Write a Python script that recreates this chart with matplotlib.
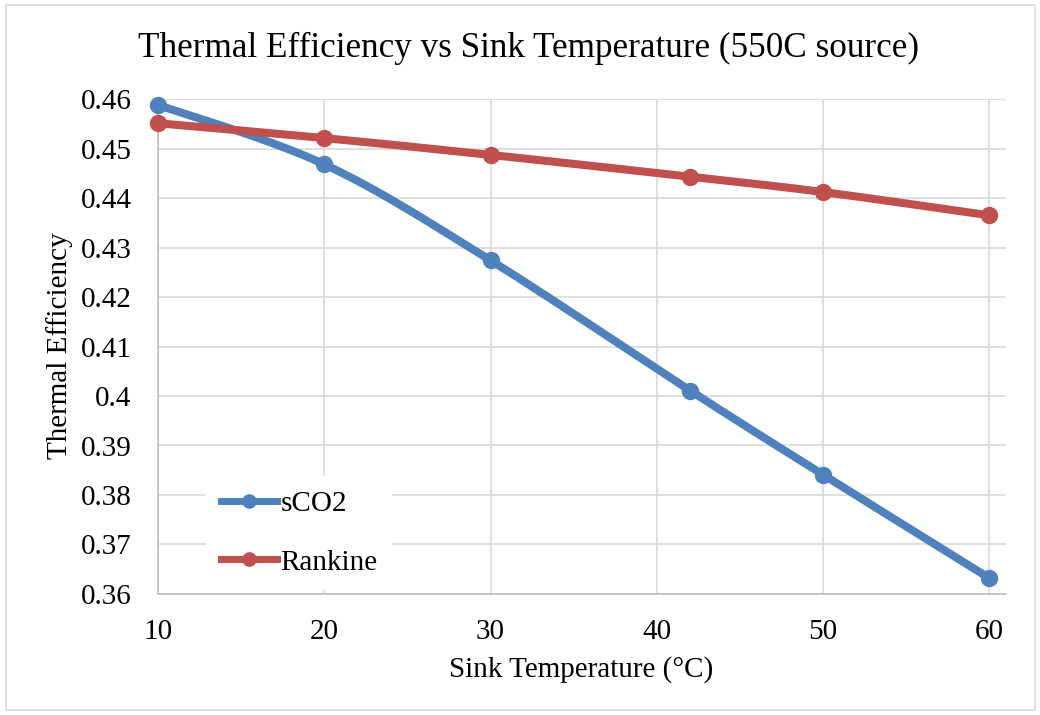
import numpy as np
import matplotlib.pyplot as plt
from matplotlib.lines import Line2D
from matplotlib.patches import Rectangle

plt.rcParams['font.family'] = ['Liberation Serif', 'DejaVu Serif']

# data
sink_temp = [10, 20, 30, 42, 50, 60]
sco2 = [0.4588, 0.4468, 0.4274, 0.4011, 0.3841, 0.3632]
rankine = [0.4551, 0.4521, 0.4487, 0.4443, 0.4412, 0.4365]
x_ticks = [10, 20, 30, 40, 50, 60]
y_ticks = [0.36, 0.37, 0.38, 0.39, 0.40, 0.41, 0.42, 0.43, 0.44, 0.45, 0.46]
y_labels = ['0.36', '0.37', '0.38', '0.39', '0.4', '0.41', '0.42', '0.43', '0.44', '0.45', '0.46']

blue = '#4F81BD'
red = '#C0504D'
xlim = (10, 61)
ylim = (0.36, 0.46)


# excel style smoothing (bezier through the points), done in normalised coords
def smooth(xs, ys, n=40):
    px = (np.array(xs, float) - xlim[0]) / (xlim[1] - xlim[0])
    py = (np.array(ys, float) - ylim[0]) / (ylim[1] - ylim[0]) * 0.58
    pts = np.column_stack([px, py])
    out = []
    t = np.linspace(0, 1, n)[:, None]
    for i in range(len(pts) - 1):
        p0 = pts[max(i - 1, 0)]
        p1 = pts[i]
        p2 = pts[i + 1]
        p3 = pts[min(i + 2, len(pts) - 1)]
        c1 = p1 + (p2 - p0) / 6
        c2 = p2 - (p3 - p1) / 6
        seg = ((1 - t) ** 3) * p1 + 3 * ((1 - t) ** 2) * t * c1 + 3 * (1 - t) * t ** 2 * c2 + t ** 3 * p2
        out.append(seg)
    seg = np.vstack(out)
    sx = seg[:, 0] * (xlim[1] - xlim[0]) + xlim[0]
    sy = seg[:, 1] / 0.58 * (ylim[1] - ylim[0]) + ylim[0]
    return sx, sy


fig = plt.figure(figsize=(10.4, 7.15), dpi=100)
fig.patches.append(Rectangle((0.006, 0.007), 0.989, 0.986, transform=fig.transFigure,
                             fill=False, edgecolor='#D9D9D9', lw=1.2))
ax = fig.add_axes([158 / 1040, 1 - 594 / 715, 848 / 1040, 495 / 715])

for ys, col, name in [(sco2, blue, 'sCO2'), (rankine, red, 'Rankine')]:
    sx, sy = smooth(sink_temp, ys)
    ax.plot(sx, sy, color=col, lw=5.8, solid_capstyle='round', zorder=3, clip_on=False)
    ax.plot(sink_temp, ys, 'o', color=col, ms=11.5, zorder=4, clip_on=False)

ax.set_xlim(*xlim)
ax.set_ylim(*ylim)
ax.set_xticks(x_ticks)
ax.set_yticks(y_ticks)
ax.set_yticklabels(y_labels)
ax.tick_params(labelsize=21, length=0)
ax.tick_params(axis='x', pad=18)
ax.tick_params(axis='y', pad=19)
ax.grid(True, color='#D9D9D9', lw=1.2)
ax.set_axisbelow(True)
for s in ['top', 'right']:
    ax.spines[s].set_visible(False)
for s in ['left', 'bottom']:
    ax.spines[s].set_color('#BFBFBF')
    ax.spines[s].set_linewidth(1.2)

fig.text(529 / 1040, 1 - 48 / 715, 'Thermal Efficiency vs Sink Temperature (550C source)',
         fontsize=25.3, ha='center', va='center')
fig.text(581 / 1040, 1 - 670 / 715, 'Sink Temperature (°C)', fontsize=21, ha='center', va='center')
fig.text(60 / 1040, 1 - 346 / 715, 'Thermal Efficiency', fontsize=21, ha='center', va='center',
         rotation=90)

handles = [Line2D([], [], color=blue, lw=5, marker='o', ms=9.5),
           Line2D([], [], color=red, lw=5, marker='o', ms=9.5)]
leg = ax.legend(handles, ['sCO2', 'Rankine'], loc='upper left',
                bbox_to_anchor=(206 / 1040, 1 - 476 / 715), bbox_transform=fig.transFigure,
                fontsize=21, frameon=True, framealpha=1, edgecolor='none', fancybox=False,
                handlelength=1.95, handletextpad=0.1, labelspacing=1.1, borderpad=0.5,
                borderaxespad=0)

fig.savefig('out.png', dpi=100)
